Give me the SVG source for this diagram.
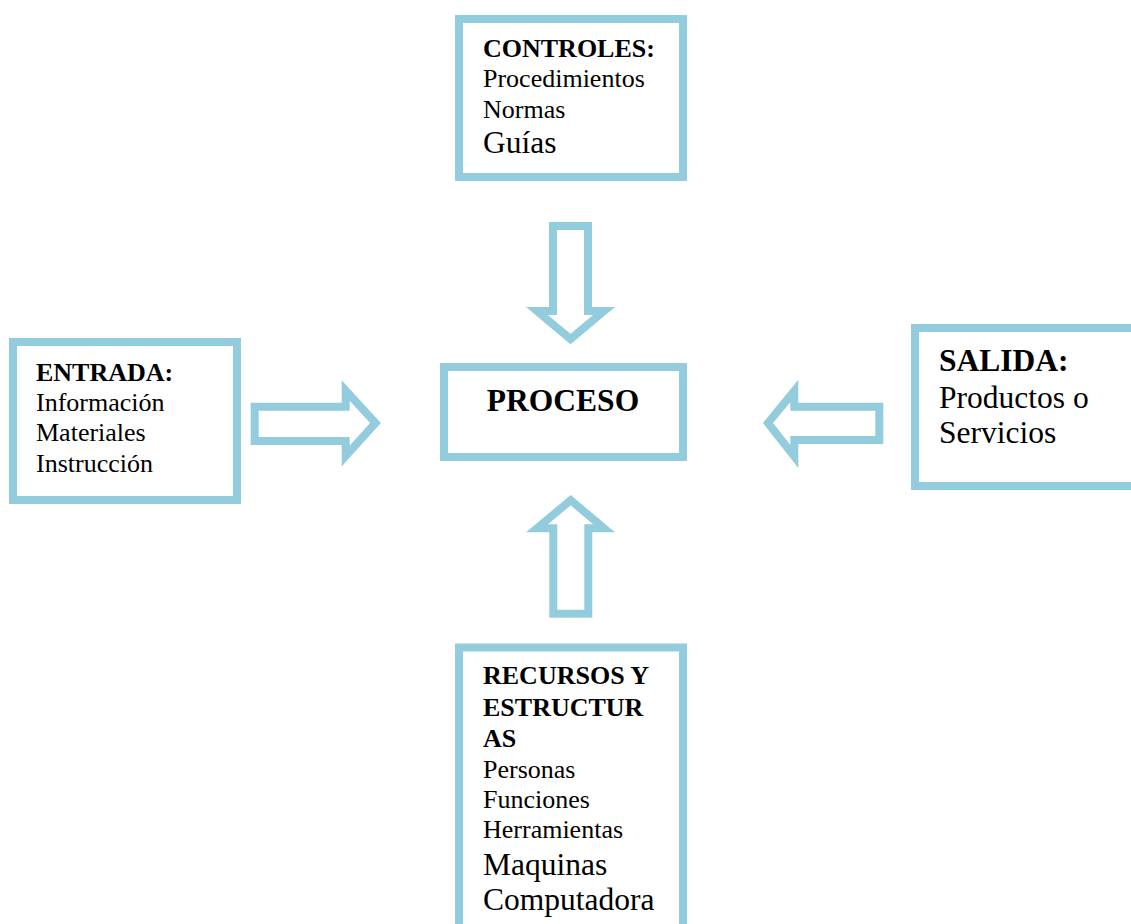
<svg xmlns="http://www.w3.org/2000/svg" width="1131" height="924" viewBox="0 0 1131 924">
<style>
.box{fill:#fff;stroke:#93CDDD;stroke-width:8}
.arr{fill:#fff;stroke:#93CDDD;stroke-width:8;stroke-linejoin:miter;stroke-miterlimit:10}
text{font-family:"Liberation Serif","Times New Roman",serif;fill:#000}
.b{font-weight:bold}
.s{font-size:26px}
.l{font-size:31.5px}
</style>
<rect width="1131" height="924" fill="#fff"/>
<g id="connectors">
<polygon class="arr" points="553,226 588,226 588,311 604,311 570.5,339 537,311 553,311"/>
<polygon class="arr" points="254.7,406.7 345.7,406.7 345.7,390.5 375.5,423 345.7,456 345.7,441 254.7,441"/>
<polygon class="arr" points="879.3,406.7 794.3,406.7 794.3,391 768,423 794.3,456.5 794.3,440 879.3,440"/>
<polygon class="arr" points="553.3,613.7 588.3,613.7 588.3,528.3 604,528.3 570.7,500.2 537,528.3 553.3,528.3"/>
</g>
<g id="controles">
<rect class="box" x="459" y="19" width="224" height="158"/>
<text class="s b" x="483" y="57">CONTROLES:</text>
<text class="s" x="483" y="87.3">Procedimientos</text>
<text class="s" x="483" y="118.3">Normas</text>
<text class="l" x="483" y="153.3">Guías</text>
</g>
<g id="entrada">
<rect class="box" x="13" y="342" width="224" height="158"/>
<text class="s b" x="36" y="381">ENTRADA:</text>
<text class="s" x="36" y="411">Información</text>
<text class="s" x="36" y="441">Materiales</text>
<text class="s" x="36" y="471.7">Instrucción</text>
</g>
<g id="proceso">
<rect class="box" x="444" y="367" width="239" height="90"/>
<text class="l b" x="563" y="410.7" text-anchor="middle">PROCESO</text>
</g>
<g id="salida">
<rect class="box" x="915" y="328" width="240" height="158"/>
<text class="l b" x="939" y="370.7">SALIDA:</text>
<text class="l" x="939" y="408.3">Productos o</text>
<text class="l" x="939" y="443.3">Servicios</text>
</g>
<g id="recursos">
<rect class="box" x="459" y="647.5" width="224" height="320"/>
<text class="s b" x="483" y="684.3">RECURSOS Y</text>
<text class="s b" x="483" y="716">ESTRUCTUR</text>
<text class="s b" x="483" y="746.7">AS</text>
<text class="s" x="483" y="777.7">Personas</text>
<text class="s" x="483" y="808.3">Funciones</text>
<text class="s" x="483" y="838.3">Herramientas</text>
<text class="l" x="483" y="875">Maquinas</text>
<text class="l" x="483" y="910">Computadora</text>
</g>
</svg>
